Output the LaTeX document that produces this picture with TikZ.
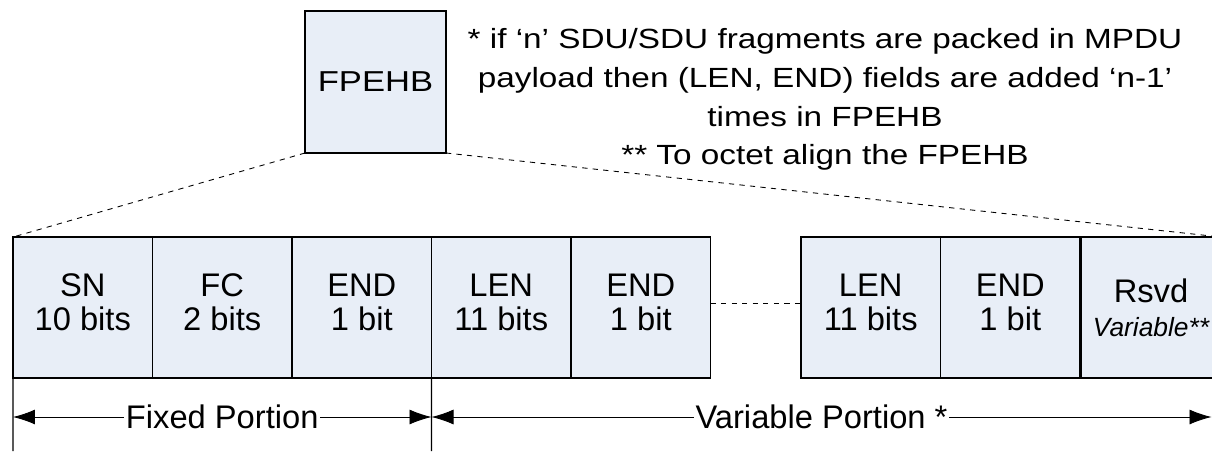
\documentclass[tikz,border=0pt]{standalone}
\usepackage{fontspec}
\setmainfont{Liberation Sans}
\newfontfamily\widefont[FakeStretch=1.2]{Liberation Sans}
\usetikzlibrary{arrows.meta}
\definecolor{fieldblue}{RGB}{232,238,247}

\begin{document}
\begin{tikzpicture}[x=0.02cm,y=-0.02cm,>={Latex[length=0.44cm,width=0.3cm]},
  field/.style={draw,line width=1.1pt,fill=fieldblue,minimum width=2.79cm,minimum height=2.82cm,
    inner sep=0pt,outer sep=0pt,align=center,font=\fontsize{18.6}{19.4}\selectfont,text depth=0.2cm},
  rsvdfield/.style={field,text depth=0pt},
  portion/.style={fill=white,inner xsep=1pt,inner ysep=0pt,font=\fontsize{18.6}{19.4}\selectfont}]
\useasboundingbox (0,0) rectangle (1212,451);
\clip (0,0) rectangle (1212,451);
\node[draw,line width=1.1pt,fill=fieldblue,minimum width=2.82cm,minimum height=2.84cm,inner sep=0pt,outer sep=0pt,
  font=\widefont\fontsize{16.4}{18}\selectfont] (hb) at (375.5,82) {FPEHB};
\node[anchor=north,align=center,inner sep=0pt,font=\widefont\fontsize{15.8}{22.1}\selectfont] (note) at (825,28)
  {* if ‘n’ SDU/SDU fragments are packed in MPDU\\payload then (LEN, END) fields are added ‘n-1’\\times in FPEHB\\** To octet align the FPEHB};
\node[field] (f1) at (82.75,307.5) {SN\\10 bits};
\node[field] (f2) at (222.25,307.5) {FC\\2 bits};
\node[field] (f3) at (361.75,307.5) {END\\1 bit};
\node[field] (f4) at (501.25,307.5) {LEN\\11 bits};
\node[field] (f5) at (640.75,307.5) {END\\1 bit};
\node[field] (f6) at (870.75,307.5) {LEN\\11 bits};
\node[field] (f7) at (1010.25,307.5) {END\\1 bit};
\node[rsvdfield] (f8) at (1151,307.5) {Rsvd\\{\fontsize{15}{19.4}\selectfont\itshape Variable**}};
\draw[dashed,line width=0.5pt] (hb.south west) -- (f1.north west);
\draw[dashed,line width=0.5pt] (hb.south east) -- (f8.north east);
\draw[dashed,line width=0.5pt] ([yshift=0.09cm]f5.east) -- ([yshift=0.09cm]f6.west);
\coordinate (b1) at (13,451);
\coordinate (b2) at (431.5,451);
\coordinate (fl) at (13,417);
\coordinate (fm) at (431.5,417);
\coordinate (vr) at (1211.5,417);
\draw[line width=0.6pt] (f1.south west) -- (b1);
\draw[line width=0.6pt] (f4.south west) -- (b2);
\draw[<->,line width=0.5pt] (fl) -- node[portion] (fixed) {Fixed Portion} (fm);
\draw[<->,line width=0.5pt] (fm) -- node[portion] (variable) {Variable Portion *} (vr);
\end{tikzpicture}
\end{document}
